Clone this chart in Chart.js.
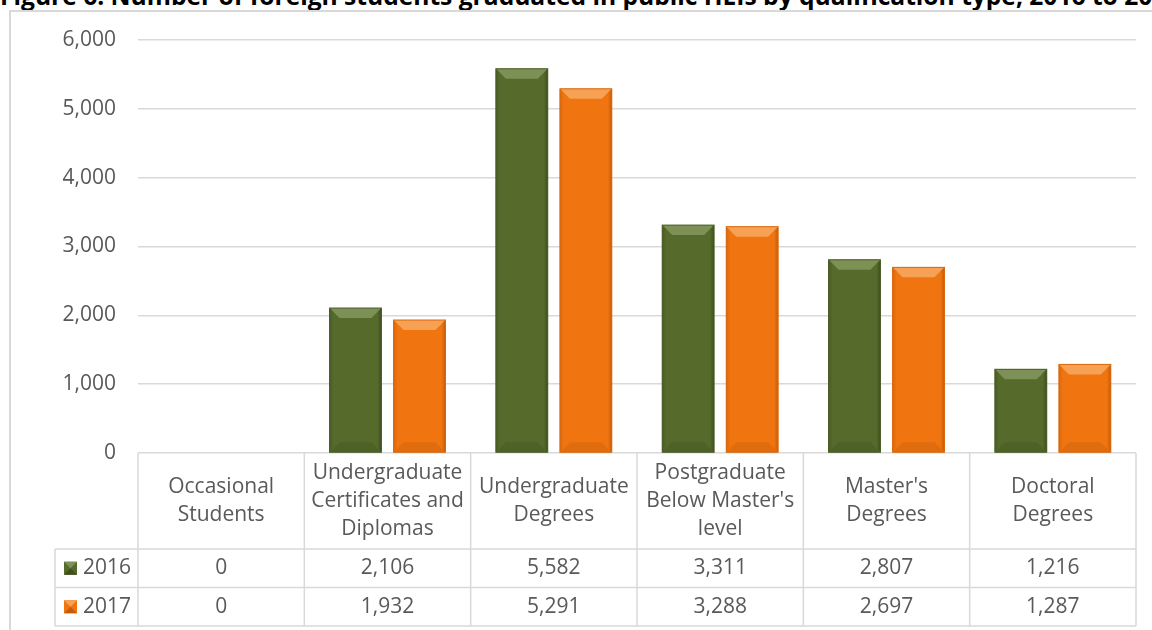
<!DOCTYPE html>
<html>
<head>
<meta charset="utf-8">
<script src="https://cdn.jsdelivr.net/npm/chart.js@4.4.1/dist/chart.umd.min.js"></script>
<style>
  html, body { margin: 0; padding: 0; background: #fff; overflow: hidden; }
  #wrap { position: relative; width: 1152px; height: 630px; overflow: hidden; }
  #title {
    position: absolute; left: 0px; top: -16px; white-space: nowrap;
    font: bold 24.6px/24px "Open Sans", sans-serif; color: #000;
  }
  #frame {
    position: absolute; left: 9px; top: 10px; width: 1300px; height: 800px;
    border: 2px solid #d9d9d9; box-sizing: border-box;
  }
  #chart { position: absolute; left: 0; top: 0; }
</style>
</head>
<body>
<div id="wrap">
  <div id="title">Figure 6: Number of foreign students graduated in public HEIs by qualification type, 2016 to 2017</div>
  <div id="frame"></div>
  <canvas id="chart" width="1152" height="630"></canvas>
</div>
<script>
// data
const categories = [
  ['Occasional', 'Students'],
  ['Undergraduate', 'Certificates and', 'Diplomas'],
  ['Undergraduate', 'Degrees'],
  ['Postgraduate', "Below Master's", 'level'],
  ["Master's", 'Degrees'],
  ['Doctoral', 'Degrees']
];
const seriesNames = ['2016', '2017'];
const values2016 = [0, 2106, 5582, 3311, 2807, 1216];
const values2017 = [0, 1932, 5291, 3288, 2697, 1287];
const yTicks = [0, 1000, 2000, 3000, 4000, 5000, 6000];

const colors = {
  '2016': { face: '#566a2c', light: '#7d9157', dark: '#3f4f1e', edge: '#4a5c24' },
  '2017': { face: '#f07511', light: '#f6a153', dark: '#c65c08', edge: '#d9680c' }
};
const textColor = '#595959';
const lineColor = '#d9d9d9';
const fontFamily = '"Open Sans", sans-serif';
const fontSize = 21;

// bevel look for the bars
const bevelPlugin = {
  id: 'bevel',
  afterDatasetsDraw(chart) {
    const ctx = chart.ctx;
    chart.data.datasets.forEach((ds, di) => {
      const c = colors[ds.label];
      chart.getDatasetMeta(di).data.forEach(el => {
        const p = el.getProps(['x', 'y', 'base', 'width'], true);
        const l = p.x - p.width / 2, r = p.x + p.width / 2;
        const t = p.y, b = p.base;
        const h = b - t;
        if (h < 2) return;
        const bv = Math.min(10, p.width / 5, h / 2);
        const sv = Math.min(4, h / 2);
        ctx.save();
        // top bevel
        ctx.fillStyle = c.light;
        ctx.beginPath();
        ctx.moveTo(l, t); ctx.lineTo(r, t); ctx.lineTo(r - bv, t + bv); ctx.lineTo(l + bv, t + bv);
        ctx.closePath(); ctx.fill();
        // bottom bevel
        ctx.fillStyle = c.dark;
        ctx.globalAlpha = 0.35;
        ctx.beginPath();
        ctx.moveTo(l, b); ctx.lineTo(r, b); ctx.lineTo(r - bv, b - bv); ctx.lineTo(l + bv, b - bv);
        ctx.closePath(); ctx.fill();
        // right side
        ctx.globalAlpha = 1;
        const g = ctx.createLinearGradient(r - sv, 0, r, 0);
        g.addColorStop(0, c.face); g.addColorStop(1, c.dark);
        ctx.fillStyle = g;
        ctx.beginPath();
        ctx.moveTo(r, t); ctx.lineTo(r - sv, t + sv); ctx.lineTo(r - sv, b - sv); ctx.lineTo(r, b);
        ctx.closePath(); ctx.fill();
        // left side
        const g2 = ctx.createLinearGradient(l, 0, l + sv, 0);
        g2.addColorStop(0, c.edge); g2.addColorStop(1, c.face);
        ctx.fillStyle = g2;
        ctx.beginPath();
        ctx.moveTo(l, t); ctx.lineTo(l + sv, t + sv); ctx.lineTo(l + sv, b - sv); ctx.lineTo(l, b);
        ctx.closePath(); ctx.fill();
        ctx.strokeStyle = c.edge; ctx.lineWidth = 1;
        ctx.strokeRect(l, t, r - l, h);
        ctx.restore();
      });
    });
  }
};

// data table under the plot
const tablePlugin = {
  id: 'dataTable',
  afterDraw(chart) {
    const ctx = chart.ctx;
    const xs = chart.scales.x;
    const n = categories.length;
    const colW = (xs.right - xs.left) / n;
    const top = chart.chartArea.bottom;
    const headH = 96, rowH = 38.5;
    const legendLeft = 55;
    const bottom = top + headH + rowH * 2;

    ctx.save();
    ctx.strokeStyle = lineColor;
    ctx.lineWidth = 1.5;
    ctx.beginPath();
    for (let i = 0; i <= n; i++) {
      const x = xs.left + i * colW;
      ctx.moveTo(x, top); ctx.lineTo(x, bottom);
    }
    ctx.moveTo(legendLeft, top + headH); ctx.lineTo(legendLeft, bottom);
    for (let k = 0; k <= 2; k++) {
      const y = top + headH + k * rowH;
      ctx.moveTo(legendLeft, y); ctx.lineTo(xs.right, y);
    }
    ctx.stroke();

    ctx.fillStyle = textColor;
    ctx.font = fontSize + 'px ' + fontFamily;
    ctx.textAlign = 'center';
    ctx.textBaseline = 'middle';
    const lh = 28;
    categories.forEach((lines, i) => {
      const cx = xs.left + (i + 0.5) * colW;
      const cy = top + headH / 2 - (lines.length - 1) * lh / 2;
      lines.forEach((s, j) => ctx.fillText(s, cx, cy + j * lh));
    });

    [values2016, values2017].forEach((vals, k) => {
      const cy = top + headH + (k + 0.5) * rowH;
      vals.forEach((v, i) => {
        ctx.fillStyle = textColor;
        ctx.textAlign = 'center';
        ctx.fillText(v.toLocaleString('en-US'), xs.left + (i + 0.5) * colW, cy);
      });
      // legend key
      const c = colors[seriesNames[k]];
      const sx = 64, sy = cy - 6.5, s = 13;
      ctx.fillStyle = c.face;
      ctx.fillRect(sx, sy, s, s);
      ctx.fillStyle = c.light;
      ctx.beginPath(); ctx.moveTo(sx, sy); ctx.lineTo(sx + s, sy); ctx.lineTo(sx + s / 2, sy + s / 2); ctx.closePath(); ctx.fill();
      ctx.fillStyle = c.dark;
      ctx.beginPath(); ctx.moveTo(sx, sy + s); ctx.lineTo(sx + s, sy + s); ctx.lineTo(sx + s / 2, sy + s / 2); ctx.closePath(); ctx.fill();
      ctx.fillStyle = textColor;
      ctx.textAlign = 'left';
      ctx.fillText(seriesNames[k], 83, cy);
    });
    ctx.restore();
  }
};

new Chart(document.getElementById('chart'), {
  type: 'bar',
  data: {
    labels: categories,
    datasets: [
      { label: seriesNames[0], data: values2016, backgroundColor: colors['2016'].face, borderWidth: 0,
        categoryPercentage: 0.77, barPercentage: 0.81 },
      { label: seriesNames[1], data: values2017, backgroundColor: colors['2017'].face, borderWidth: 0,
        categoryPercentage: 0.77, barPercentage: 0.81 }
    ]
  },
  options: {
    responsive: false,
    animation: false,
    devicePixelRatio: 1,
    layout: { padding: { left: 0, top: 40, right: 16, bottom: 177 } },
    plugins: { legend: { display: false }, tooltip: { enabled: false } },
    scales: {
      x: { display: false },
      y: {
        min: 0, max: 6000,
        afterBuildTicks: s => { s.ticks = yTicks.map(v => ({ value: v })); },
        afterFit: s => { s.width = 138; },
        ticks: {
          padding: 22, color: textColor,
          font: { family: fontFamily, size: fontSize },
          callback: v => v.toLocaleString('en-US')
        },
        grid: { color: lineColor, lineWidth: 1.5, drawTicks: false },
        border: { display: false }
      }
    }
  },
  plugins: [bevelPlugin, tablePlugin]
});
</script>
</body>
</html>
